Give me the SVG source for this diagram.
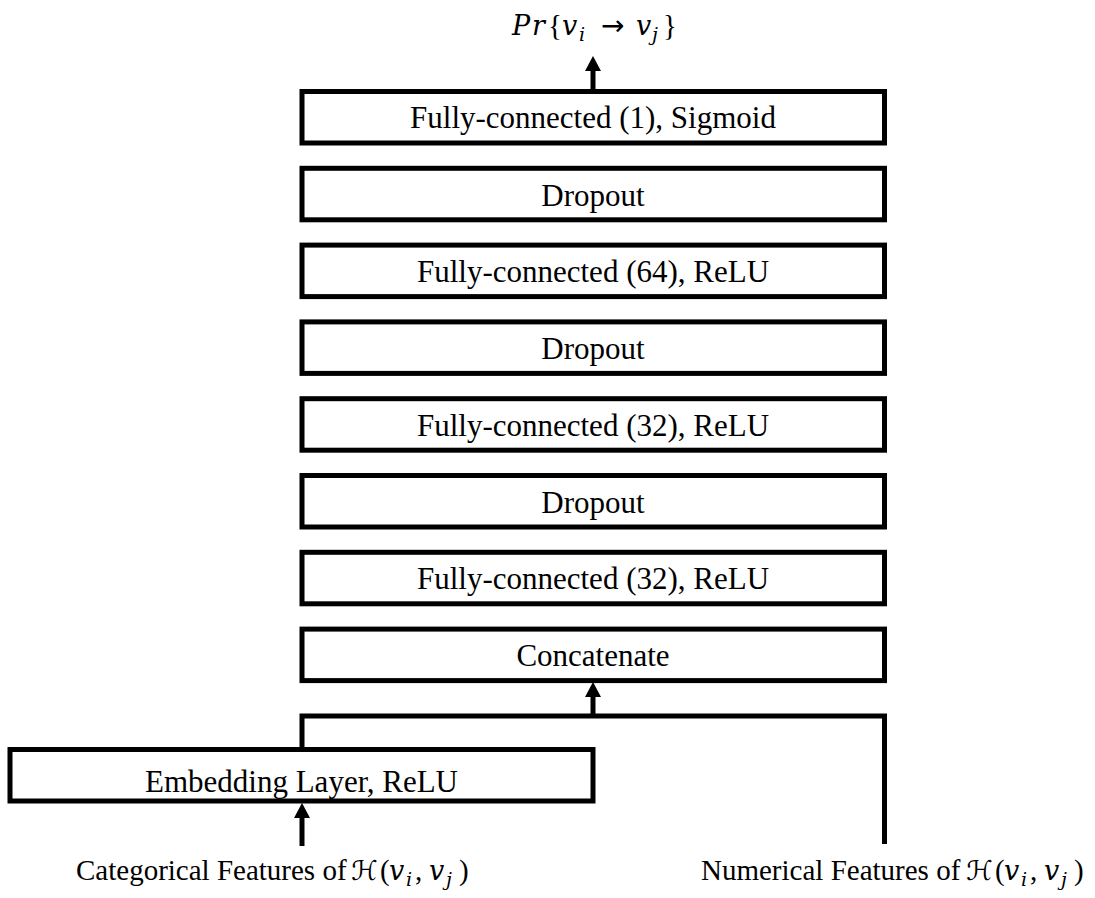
<svg xmlns="http://www.w3.org/2000/svg" width="1095" height="898" viewBox="0 0 1095 898">
<defs>
<style>
.box{fill:#fff;stroke:#000;stroke-width:5}
.lbl{font-family:"Liberation Serif","Times New Roman",serif;font-size:31px;fill:#000;text-anchor:middle}
.cap{font-family:"Liberation Serif","Times New Roman",serif;font-size:29px;fill:#000}
.it{font-family:"DejaVu Serif",serif;font-style:italic;font-size:27px}
.sub{font-family:"DejaVu Serif",serif;font-style:italic;font-size:19px}
.scr{font-family:"DejaVu Sans",serif;font-size:27px}
.arr{font-family:"DejaVu Sans",sans-serif;font-size:28px}
.con{fill:none;stroke:#000;stroke-width:5}
</style>
<marker id="ah" markerUnits="userSpaceOnUse" markerWidth="16" markerHeight="16" refX="0" refY="8" orient="auto">
<path d="M0,0 L15,8 L0,16 z" fill="#000"/>
</marker>
</defs>
<rect width="1095" height="898" fill="#fff"/>

<g id="connectors">
<path class="con" d="M302,749.5 V716 H884.5 V844"/>
<line class="con" x1="593" y1="716" x2="593" y2="697" marker-end="url(#ah)"/>
<line class="con" x1="302" y1="846" x2="302" y2="818" marker-end="url(#ah)"/>
<line class="con" x1="593" y1="91" x2="593" y2="71" marker-end="url(#ah)"/>
</g>

<g id="fc1"><rect class="box" x="302" y="91.5" width="582.5" height="51.5"/><text class="lbl" x="593" y="128">Fully-connected (1), Sigmoid</text></g>
<g id="drop1"><rect class="box" x="302" y="168.3" width="582.5" height="51.5"/><text class="lbl" x="593" y="206">Dropout</text></g>
<g id="fc64"><rect class="box" x="302" y="245.1" width="582.5" height="51.5"/><text class="lbl" x="593" y="282">Fully-connected (64), ReLU</text></g>
<g id="drop2"><rect class="box" x="302" y="321.9" width="582.5" height="51.5"/><text class="lbl" x="593" y="359">Dropout</text></g>
<g id="fc32a"><rect class="box" x="302" y="398.7" width="582.5" height="51.5"/><text class="lbl" x="593" y="436">Fully-connected (32), ReLU</text></g>
<g id="drop3"><rect class="box" x="302" y="475.5" width="582.5" height="51.5"/><text class="lbl" x="593" y="513">Dropout</text></g>
<g id="fc32b"><rect class="box" x="302" y="552.3" width="582.5" height="51.5"/><text class="lbl" x="593" y="589">Fully-connected (32), ReLU</text></g>
<g id="concat"><rect class="box" x="302" y="629.1" width="582.5" height="51.5"/><text class="lbl" x="593" y="666">Concatenate</text></g>
<g id="embed"><rect class="box" x="10" y="749.5" width="583" height="51.5"/><text class="lbl" x="301.5" y="792">Embedding Layer, ReLU</text></g>

<g id="output">
<text class="cap" y="35"><tspan class="it" x="512">P</tspan><tspan class="it" x="532">r</tspan><tspan x="548">{</tspan><tspan class="it" x="562">v</tspan><tspan class="sub" x="579" dy="6">i</tspan><tspan class="arr" x="601" dy="-6">→</tspan><tspan class="it" x="636">v</tspan><tspan class="sub" x="652" dy="6">j</tspan><tspan x="663" dy="-6">}</tspan></text>
</g>
<g id="cat-input">
<text class="cap" y="880"><tspan x="76">Categorical Features of</tspan><tspan class="scr" x="351">ℋ</tspan><tspan x="380">(</tspan><tspan class="it" x="389">v</tspan><tspan class="sub" x="406" dy="6">i</tspan><tspan x="415" dy="-6">,</tspan><tspan class="it" x="429">v</tspan><tspan class="sub" x="446" dy="6">j</tspan><tspan x="459" dy="-6">)</tspan></text>
</g>
<g id="num-input">
<text class="cap" y="880"><tspan x="701">Numerical Features of</tspan><tspan class="scr" x="966">ℋ</tspan><tspan x="995">(</tspan><tspan class="it" x="1004">v</tspan><tspan class="sub" x="1021" dy="6">i</tspan><tspan x="1030" dy="-6">,</tspan><tspan class="it" x="1044">v</tspan><tspan class="sub" x="1061" dy="6">j</tspan><tspan x="1074" dy="-6">)</tspan></text>
</g>
</svg>
